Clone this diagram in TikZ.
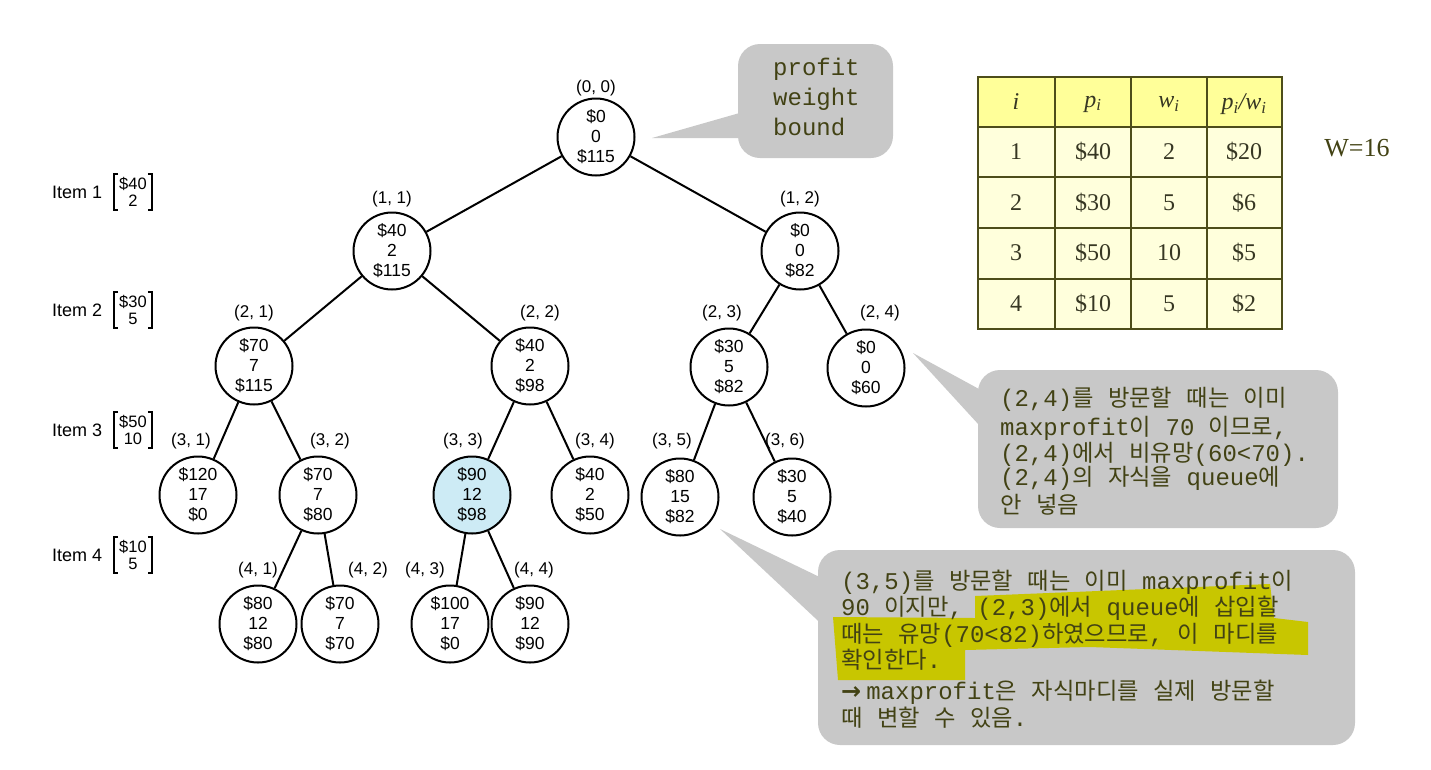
\documentclass[tikz,border=0pt]{standalone}
\usepackage{fontspec}
\setmainfont{Liberation Serif}
\setsansfont{Liberation Sans}
\setmonofont{Liberation Mono}
\newfontfamily\krfont[Scale=0.97]{Noto Sans CJK KR}
\newfontfamily\arrowfont{DejaVu Sans}
\newcommand\hk[1]{{\krfont #1}}
\definecolor{callgray}{RGB}{200,200,200}
\definecolor{olivetext}{RGB}{66,66,20}
\definecolor{hilite}{RGB}{200,198,0}
\definecolor{hdrfill}{RGB}{255,255,153}
\definecolor{bodyfill}{RGB}{255,255,220}
\definecolor{tblline}{RGB}{77,77,26}
\definecolor{tbltext}{RGB}{55,55,35}
\definecolor{nodeblue}{RGB}{205,235,245}
\tikzset{
  tnode/.style={circle, draw, line width=2pt, minimum size=77pt, inner sep=0pt, align=center,
    font=\sffamily\fontsize{17.5}{20}\selectfont},
  tlabel/.style={inner sep=0pt, font=\sffamily\fontsize{17}{20}\selectfont},
  edge/.style={line width=2pt},
  calltext/.style={anchor=base west, inner sep=0pt, text=olivetext, font=\ttfamily\fontsize{24}{28}\selectfont},
  bigcall/.style={anchor=base west, inner sep=0pt, text=olivetext, font=\ttfamily\fontsize{24}{28}\selectfont},
  itemlbl/.style={anchor=west, inner sep=0pt, font=\sffamily\fontsize{18}{20}\selectfont},
  itemvec/.style={inner xsep=5pt, inner ysep=3pt, align=center, font=\sffamily\fontsize{16.5}{17.5}\selectfont},
  brk/.style={line width=1.4pt},
  tcell/.style={inner sep=0pt, text=tbltext, font=\fontsize{24}{28}\selectfont},
  callbox/.style={fill=callgray, rounded corners=22pt},
}
\begin{document}
\begin{tikzpicture}[x=1pt,y=-1pt]
\useasboundingbox (0,0) rectangle (1431,769);

% ---------- callouts (backgrounds) ----------
\fill[callbox] (738,44) rectangle (893,158);
\fill[callgray] (652,138) -- (750,110) -- (750,138) -- cycle;

\fill[callbox] (978,370) rectangle (1338,528);
\fill[callgray] (913,353) -- (990,395) -- (990,437) -- cycle;

\fill[callbox] (818,550) rectangle (1355,745);
\fill[callgray] (720,529) -- (830,582) -- (830,632) -- cycle;

% highlight
\fill[hilite] (975,596) -- (1270,584) -- (1274,618) -- (1308,622) -- (1308,655)
  -- (1090,647) -- (965,650) -- (965,680) -- (838,680) -- (833,617) -- (975,618) -- cycle;

% ---------- callout texts ----------
\node[bigcall] (c1a) at (773,75) {profit};
\node[bigcall] (c1b) at (773,105) {weight};
\node[bigcall] (c1c) at (773,135) {bound};

\node[calltext] (c2a) at (1000,406) {(2,4)\hk{를} \hk{방문할} \hk{때는} \hk{이미}};
\node[calltext] (c2b) at (1000,435) {maxprofit\hk{이} 70 \hk{이므로},};
\node[calltext] (c2c) at (1000,461) {(2,4)\hk{에서} \hk{비유망}(60<70).};
\node[calltext] (c2d) at (1000,485) {(2,4)\hk{의} \hk{자식을} queue\hk{에}};
\node[calltext] (c2e) at (1000,513) {\hk{안} \hk{넣음}};

\node[calltext] (c3a) at (841,589) {(3,5)\hk{를} \hk{방문할} \hk{때는} \hk{이미} maxprofit\hk{이}};
\node[calltext] (c3b) at (841,615) {90 \hk{이지만}, (2,3)\hk{에서} queue\hk{에} \hk{삽입할}};
\node[calltext] (c3c) at (841,642) {\hk{때는} \hk{유망}(70<82)\hk{하였으므로}, \hk{이} \hk{마디를}};
\node[calltext] (c3d) at (841,668) {\hk{확인한다}.};
\node[calltext] (c3e) at (841,699) {{\arrowfont\bfseries →}\hspace{5pt}maxprofit\hk{은} \hk{자식마디를} \hk{실제} \hk{방문할}};
\node[calltext] (c3f) at (841,726) {\hk{때} \hk{변할} \hk{수} \hk{있음}.};

% ---------- table ----------
\fill[hdrfill] (978,77) rectangle (1282,127);
\fill[bodyfill] (978,127) rectangle (1282,329);
\draw[tblline, line width=2pt] (978,77) rectangle (1282,329);
\foreach \xx in {1055,1131,1207} \draw[tblline, line width=2pt] (\xx,77) -- (\xx,329);
\foreach \yy in {127,177,228,279} \draw[tblline, line width=2pt] (978,\yy) -- (1282,\yy);

\node[tcell] (h1) at (1016,102) {\textit{i}};
\node[tcell] (h2) at (1093,104) {\textit{p}\textsubscript{\textit{i}}};
\node[tcell] (h3) at (1169,104) {\textit{w}\textsubscript{\textit{i}}};
\node[tcell] (h4) at (1244,104) {\textit{p}\textsubscript{\textit{i}}\textit{/w}\textsubscript{\textit{i}}};

\node[tcell] (r1a) at (1016,152) {1};   \node[tcell] (r1b) at (1093,152) {\$40};
\node[tcell] (r1c) at (1169,152) {2};   \node[tcell] (r1d) at (1244,152) {\$20};
\node[tcell] (r2a) at (1016,203) {2};   \node[tcell] (r2b) at (1093,203) {\$30};
\node[tcell] (r2c) at (1169,203) {5};   \node[tcell] (r2d) at (1244,203) {\$6};
\node[tcell] (r3a) at (1016,253) {3};   \node[tcell] (r3b) at (1093,253) {\$50};
\node[tcell] (r3c) at (1169,253) {10};  \node[tcell] (r3d) at (1244,253) {\$5};
\node[tcell] (r4a) at (1016,304) {4};   \node[tcell] (r4b) at (1093,304) {\$10};
\node[tcell] (r4c) at (1169,304) {5};   \node[tcell] (r4d) at (1244,304) {\$2};

\node[inner sep=0pt, text=olivetext, font=\fontsize{26}{30}\selectfont] (W) at (1357,148) {W=16};

% ---------- item labels ----------
\foreach \k/\yy/\pp/\ww in {1/192/40/2, 2/310/30/5, 3/430/50/10, 4/555/10/5}{
  \node[itemlbl] (item\k) at (52,\yy) {Item \k};
  \node[itemvec] (vec\k) at (133,\yy) {\$\pp\\\ww};
  \draw[brk] ([xshift=4pt]vec\k.north west) -- (vec\k.north west) -- (vec\k.south west) -- ([xshift=4pt]vec\k.south west);
  \draw[brk] ([xshift=-4pt]vec\k.north east) -- (vec\k.north east) -- (vec\k.south east) -- ([xshift=-4pt]vec\k.south east);
}

% ---------- tree nodes ----------
\node[tnode] (n00) at (596,137) {\$0\\0\\\$115};
\node[tnode] (n11) at (392,251) {\$40\\2\\\$115};
\node[tnode] (n12) at (800,251) {\$0\\0\\\$82};
\node[tnode] (n21) at (254,366) {\$70\\7\\\$115};
\node[tnode] (n22) at (530,366) {\$40\\2\\\$98};
\node[tnode] (n23) at (729,367) {\$30\\5\\\$82};
\node[tnode] (n24) at (866,368) {\$0\\0\\\$60};
\node[tnode] (n31) at (198,495) {\$120\\17\\\$0};
\node[tnode] (n32) at (318,495) {\$70\\7\\\$80};
\node[tnode, fill=nodeblue] (n33) at (472,495) {\$90\\12\\\$98};
\node[tnode] (n34) at (590,495) {\$40\\2\\\$50};
\node[tnode] (n35) at (680,497) {\$80\\15\\\$82};
\node[tnode] (n36) at (792,497) {\$30\\5\\\$40};
\node[tnode] (n41) at (258,624) {\$80\\12\\\$80};
\node[tnode] (n42) at (340,624) {\$70\\7\\\$70};
\node[tnode] (n43) at (450,624) {\$100\\17\\\$0};
\node[tnode] (n44) at (530,624) {\$90\\12\\\$90};

% ---------- tree labels ----------
\node[tlabel] (l00) at (596,88) {(0, 0)};
\node[tlabel] (l11) at (392,199) {(1, 1)};
\node[tlabel] (l12) at (800,199) {(1, 2)};
\node[tlabel] (l21) at (254,313) {(2, 1)};
\node[tlabel] (l22) at (540,313) {(2, 2)};
\node[tlabel] (l23) at (722,313) {(2, 3)};
\node[tlabel] (l24) at (880,313) {(2, 4)};
\node[tlabel] (l31) at (191,441) {(3, 1)};
\node[tlabel] (l32) at (330,441) {(3, 2)};
\node[tlabel] (l33) at (463,441) {(3, 3)};
\node[tlabel] (l34) at (595,441) {(3, 4)};
\node[tlabel] (l35) at (672,441) {(3, 5)};
\node[tlabel] (l36) at (785,441) {(3, 6)};
\node[tlabel] (l41) at (258,570) {(4, 1)};
\node[tlabel] (l42) at (368,570) {(4, 2)};
\node[tlabel] (l43) at (425,570) {(4, 3)};
\node[tlabel] (l44) at (534,570) {(4, 4)};

% ---------- edges ----------
\draw[edge] (n00) -- (n11);
\draw[edge] (n00) -- (n12);
\draw[edge] (n11) -- (n21);
\draw[edge] (n11) -- (n22);
\draw[edge] (n12) -- (n23);
\draw[edge] (n12) -- (n24);
\draw[edge] (n21) -- (n31);
\draw[edge] (n21) -- (n32);
\draw[edge] (n22) -- (n33);
\draw[edge] (n22) -- (n34);
\draw[edge] (n23) -- (n35);
\draw[edge] (n23) -- (n36);
\draw[edge] (n32) -- (n41);
\draw[edge] (n32) -- (n42);
\draw[edge] (n33) -- (n43);
\draw[edge] (n33) -- (n44);
\end{tikzpicture}
\end{document}
